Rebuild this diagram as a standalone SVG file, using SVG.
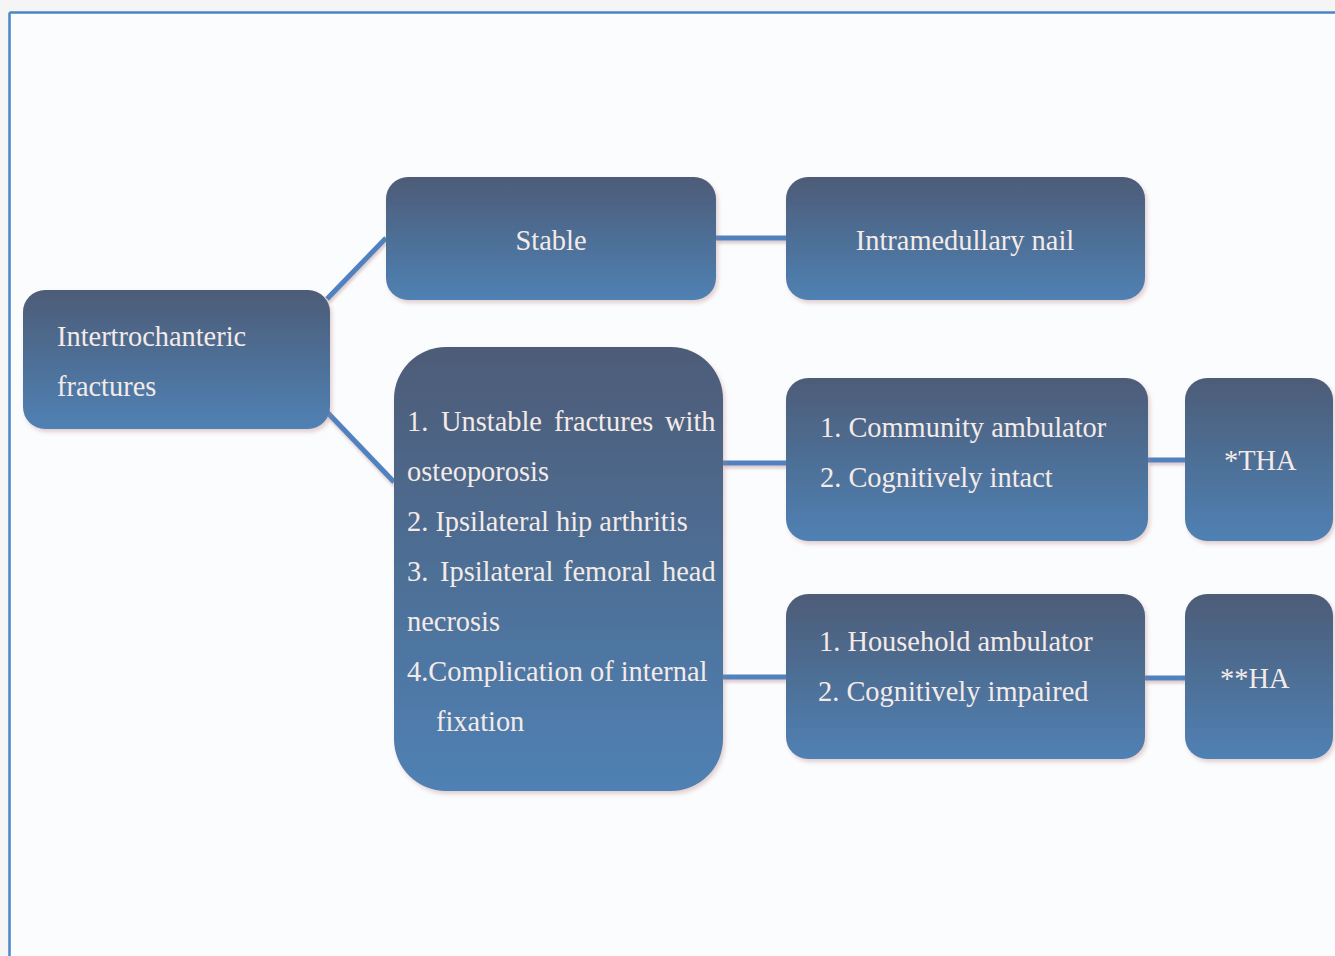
<svg xmlns="http://www.w3.org/2000/svg" width="1335" height="956" viewBox="0 0 1335 956">
  <defs>
    <linearGradient id="boxGrad" x1="0" y1="0" x2="0" y2="1">
      <stop offset="0" stop-color="#4d5c77"/>
      <stop offset="1" stop-color="#4f81b4"/>
    </linearGradient>
    <filter id="shadow" x="-10%" y="-10%" width="125%" height="125%">
      <feDropShadow dx="2" dy="3" stdDeviation="2" flood-color="#b07878" flood-opacity="0.35"/>
    </filter>
    <filter id="lineShadow" filterUnits="userSpaceOnUse" x="0" y="0" width="1335" height="956">
      <feDropShadow dx="1" dy="3" stdDeviation="1.5" flood-color="#a07070" flood-opacity="0.35"/>
    </filter>
    <style>
      .box { fill: url(#boxGrad); filter: url(#shadow); }
      .lbl { font-family: "Liberation Serif", "Times New Roman", serif; font-size: 28.4px; fill: #f4ebe8; }
      .conn { stroke: #4f82bf; stroke-width: 5; fill: none; }
      .frame { stroke: #4a86c6; stroke-width: 2.5; fill: none; }
    </style>
  </defs>

  <rect x="0" y="0" width="1335" height="956" fill="#f5f5f5"/>
  <rect x="9" y="12" width="1330" height="950" fill="#fbfcfe"/>
  <g id="frame">
    <line class="frame" x1="9.5" y1="12.5" x2="1335" y2="12.5"/>
    <line class="frame" x1="9.5" y1="12.5" x2="9.5" y2="956"/>
  </g>

  <g id="connectors" filter="url(#lineShadow)">
    <line class="conn" x1="327" y1="299" x2="386" y2="238"/>
    <line class="conn" x1="327" y1="412" x2="394" y2="482"/>
    <line class="conn" x1="716" y1="238" x2="786" y2="238"/>
    <line class="conn" x1="723" y1="463" x2="786" y2="463"/>
    <line class="conn" x1="723" y1="677" x2="786" y2="677"/>
    <line class="conn" x1="1148" y1="460" x2="1185" y2="460"/>
    <line class="conn" x1="1145" y1="678" x2="1185" y2="678"/>
  </g>

  <g id="node-intertrochanteric">
    <rect class="box" x="23" y="290" width="307" height="139" rx="22"/>
    <text class="lbl" x="57" y="346">Intertrochanteric</text>
    <text class="lbl" x="57" y="396">fractures</text>
  </g>

  <g id="node-stable">
    <rect class="box" x="386" y="177" width="330" height="123" rx="22"/>
    <text class="lbl" x="551" y="250" text-anchor="middle">Stable</text>
  </g>

  <g id="node-nail">
    <rect class="box" x="786" y="177" width="359" height="123" rx="22"/>
    <text class="lbl" x="965" y="250" text-anchor="middle">Intramedullary nail</text>
  </g>

  <g id="node-unstable">
    <rect class="box" x="394" y="347" width="329" height="444" rx="52"/>
    <text class="lbl" y="431"><tspan x="407">1.</tspan><tspan x="441">Unstable</tspan><tspan x="554">fractures</tspan><tspan x="665">with</tspan></text>
    <text class="lbl" x="407" y="481">osteoporosis</text>
    <text class="lbl" x="407" y="531">2. Ipsilateral hip arthritis</text>
    <text class="lbl" y="581"><tspan x="407">3.</tspan><tspan x="440">Ipsilateral</tspan><tspan x="563">femoral</tspan><tspan x="662">head</tspan></text>
    <text class="lbl" x="407" y="631">necrosis</text>
    <text class="lbl" x="407" y="681">4.Complication of internal</text>
    <text class="lbl" x="436" y="731">fixation</text>
  </g>

  <g id="node-community">
    <rect class="box" x="786" y="378" width="362" height="163" rx="22"/>
    <text class="lbl" x="820" y="437">1. Community ambulator</text>
    <text class="lbl" x="820" y="487">2. Cognitively intact</text>
  </g>

  <g id="node-tha">
    <rect class="box" x="1185" y="378" width="148" height="163" rx="22"/>
    <text class="lbl" x="1224" y="470">*THA</text>
  </g>

  <g id="node-household">
    <rect class="box" x="786" y="594" width="359" height="165" rx="22"/>
    <text class="lbl" x="819" y="651">1. Household ambulator</text>
    <text class="lbl" x="818" y="701">2. Cognitively impaired</text>
  </g>

  <g id="node-ha">
    <rect class="box" x="1185" y="594" width="148" height="165" rx="22"/>
    <text class="lbl" x="1220" y="688">**HA</text>
  </g>
</svg>
